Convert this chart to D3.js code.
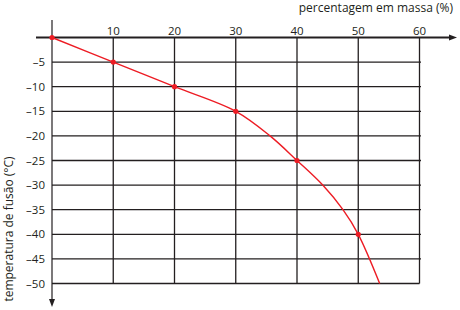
<!DOCTYPE html>
<html>
<head>
<meta charset="utf-8">
<script src="https://cdn.jsdelivr.net/npm/d3@7"></script>
<style>
  body { margin: 0; background: #fff; }
  text { font-family: "Open Sans", "Noto Sans", sans-serif; fill: #231f20; }
</style>
</head>
<body>
<svg width="460" height="310"></svg>
<script>
// data
const markerX = [0, 10, 20, 30, 40, 50];
const markerY = [0, -5, -10, -15, -25, -40];
const curveX = [0, 10, 20, 30, 35.6, 40, 44.2, 47.5, 50, 53.5];
const curveY = [0, -5, -10, -15, -20, -25, -30, -35, -40, -50];
const xTicks = [10, 20, 30, 40, 50, 60];
const yTicks = [-5, -10, -15, -20, -25, -30, -35, -40, -45, -50];

const svg = d3.select("svg");
const x = d3.scaleLinear().domain([0, 60]).range([52, 419.5]);
const y = d3.scaleLinear().domain([0, -50]).range([37.5, 283.5]);
const ink = "#231f20";

// grid
svg.append("g").selectAll("line").data(yTicks).enter().append("line")
  .attr("x1", x(0)).attr("x2", d => d === -50 ? x(60) : x(60) + 1.5)
  .attr("y1", d => y(d)).attr("y2", d => y(d))
  .attr("stroke", ink).attr("stroke-width", 1.3);
svg.append("g").selectAll("line").data(xTicks).enter().append("line")
  .attr("x1", d => x(d)).attr("x2", d => x(d))
  .attr("y1", y(0)).attr("y2", y(-50))
  .attr("stroke", ink).attr("stroke-width", 1.3);

// axes
svg.append("line").attr("x1", 36).attr("x2", 451).attr("y1", y(0)).attr("y2", y(0))
  .attr("stroke", ink).attr("stroke-width", 2);
svg.append("path").attr("d", `M457,${y(0)} L449,${y(0) - 3} L449,${y(0) + 3} Z`).attr("fill", ink);
svg.append("line").attr("x1", x(0)).attr("x2", x(0)).attr("y1", 20).attr("y2", 302)
  .attr("stroke", ink).attr("stroke-width", 1.2);
svg.append("path").attr("d", `M${x(0)},307 L${x(0) - 3},299 L${x(0) + 3},299 Z`).attr("fill", ink);

// tick labels
svg.append("g").selectAll("text").data(xTicks).enter().append("text")
  .attr("x", d => x(d)).attr("y", 34.5)
  .attr("text-anchor", "middle").attr("font-size", 11.5)
  .text(d => d);
svg.append("g").selectAll("text").data(yTicks).enter().append("text")
  .attr("x", 45).attr("y", d => y(d) + 4)
  .attr("text-anchor", "end").attr("font-size", 11.5)
  .text(d => "\u2013" + Math.abs(d));

// axis titles
svg.append("text").attr("x", 453).attr("y", 12)
  .attr("text-anchor", "end").attr("font-size", 12)
  .text("percentagem em massa (%)");
svg.append("text").attr("transform", "translate(13,229) rotate(-90)")
  .attr("text-anchor", "middle").attr("font-size", 12)
  .text("temperatura de fusão (°C)");

// curve
const line = d3.line().x(d => x(d[0])).y(d => y(d[1])).curve(d3.curveCatmullRom.alpha(0.5));
svg.append("path").datum(curveX.map((v, i) => [v, curveY[i]]))
  .attr("d", line).attr("fill", "none").attr("stroke", "#ed1c24").attr("stroke-width", 1.4);
svg.append("g").selectAll("circle").data(markerX).enter().append("circle")
  .attr("cx", d => x(d)).attr("cy", (d, i) => y(markerY[i])).attr("r", 2.6)
  .attr("fill", "#ed1c24");
</script>
</body>
</html>
